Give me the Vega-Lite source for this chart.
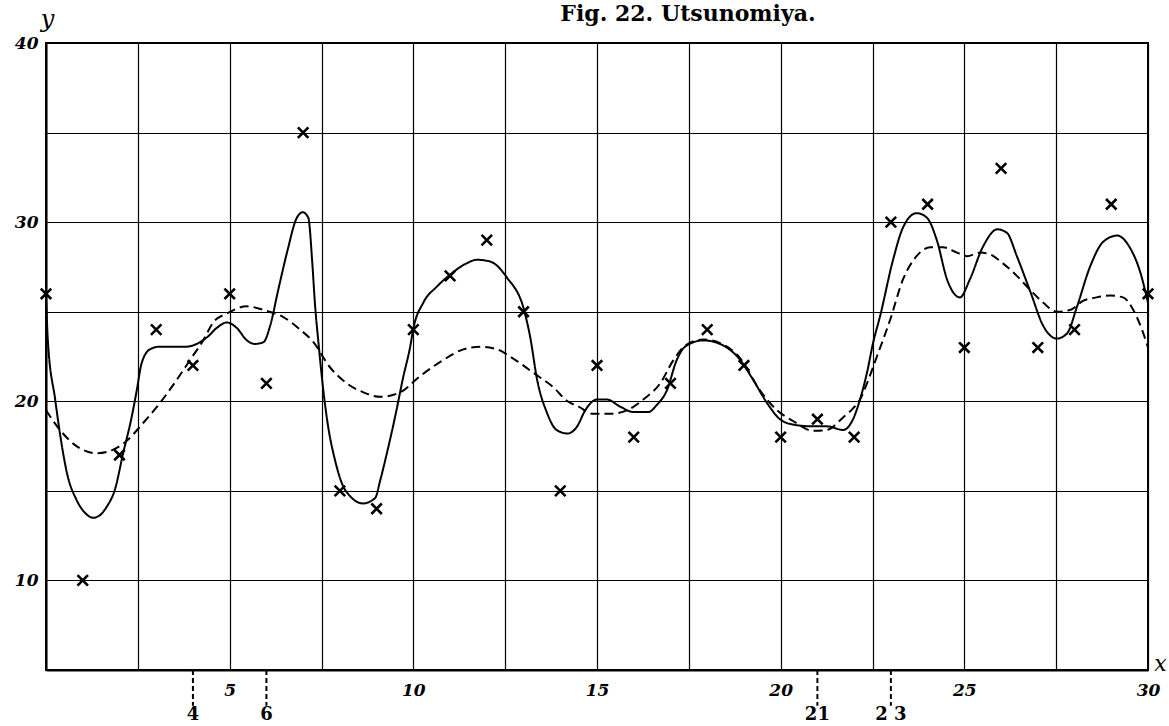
{
  "$schema": "https://vega.github.io/schema/vega-lite/v6.json",
  "width": 1102,
  "height": 627,
  "autosize": {"type": "none"},
  "padding": {"left": 46, "top": 43, "right": 21, "bottom": 56},
  "background": "white",
  "title": {
    "text": "Fig. 22.  Utsunomiya.",
    "font": "DejaVu Serif",
    "fontWeight": "bold",
    "fontSize": 22,
    "color": "black",
    "anchor": "middle",
    "dx": 91,
    "offset": -19
  },
  "config": {
    "view": {"stroke": "black", "strokeWidth": 2},
    "axis": {
      "grid": true,
      "gridColor": "black",
      "gridWidth": 1.2,
      "gridOpacity": 1,
      "ticks": false,
      "domainColor": "black",
      "domainWidth": 2,
      "labelFont": "DejaVu Serif",
      "labelFontStyle": "italic",
      "labelFontWeight": "bold",
      "labelFontSize": 17,
      "labelColor": "black",
      "titleFont": "DejaVu Serif",
      "titleFontStyle": "italic",
      "titleFontWeight": "normal",
      "titleFontSize": 24,
      "titleColor": "black"
    }
  },
  "datasets": {
    "obs": [
      {"x": 0, "y": 26}, {"x": 1, "y": 10}, {"x": 2, "y": 17}, {"x": 3, "y": 24},
      {"x": 4, "y": 22}, {"x": 5, "y": 26}, {"x": 6, "y": 21}, {"x": 7, "y": 35},
      {"x": 8, "y": 15}, {"x": 9, "y": 14}, {"x": 10, "y": 24}, {"x": 11, "y": 27},
      {"x": 12, "y": 29}, {"x": 13, "y": 25}, {"x": 14, "y": 15}, {"x": 15, "y": 22},
      {"x": 16, "y": 18}, {"x": 17, "y": 21}, {"x": 18, "y": 24}, {"x": 19, "y": 22},
      {"x": 20, "y": 18}, {"x": 21, "y": 19}, {"x": 22, "y": 18}, {"x": 23, "y": 30},
      {"x": 24, "y": 31}, {"x": 25, "y": 23}, {"x": 26, "y": 33}, {"x": 27, "y": 23},
      {"x": 28, "y": 24}, {"x": 29, "y": 31}, {"x": 30, "y": 26}
    ],
    "curves": [
      {"curve": "solid", "x": 0, "y": 26},
      {"curve": "solid", "x": 0.05, "y": 23.4},
      {"curve": "solid", "x": 0.25, "y": 20.1},
      {"curve": "solid", "x": 0.38, "y": 18.2},
      {"curve": "solid", "x": 0.57, "y": 16.0},
      {"curve": "solid", "x": 0.83, "y": 14.5},
      {"curve": "solid", "x": 1.05, "y": 13.8},
      {"curve": "solid", "x": 1.29, "y": 13.5},
      {"curve": "solid", "x": 1.5, "y": 13.7},
      {"curve": "solid", "x": 1.65, "y": 14.1},
      {"curve": "solid", "x": 1.88, "y": 15.1},
      {"curve": "solid", "x": 2.1, "y": 17.1},
      {"curve": "solid", "x": 2.33, "y": 19.1},
      {"curve": "solid", "x": 2.47, "y": 20.6},
      {"curve": "solid", "x": 2.6, "y": 22.1},
      {"curve": "solid", "x": 2.83, "y": 22.9},
      {"curve": "solid", "x": 3.1, "y": 23.05},
      {"curve": "solid", "x": 3.5, "y": 23.05},
      {"curve": "solid", "x": 3.83, "y": 23.05},
      {"curve": "solid", "x": 4.19, "y": 23.3},
      {"curve": "solid", "x": 4.4, "y": 23.6},
      {"curve": "solid", "x": 4.65, "y": 24.1},
      {"curve": "solid", "x": 4.92, "y": 24.4},
      {"curve": "solid", "x": 5.19, "y": 24.1},
      {"curve": "solid", "x": 5.47, "y": 23.4},
      {"curve": "solid", "x": 5.69, "y": 23.2},
      {"curve": "solid", "x": 5.92, "y": 23.3},
      {"curve": "solid", "x": 6.1, "y": 24.2},
      {"curve": "solid", "x": 6.32, "y": 26.2},
      {"curve": "solid", "x": 6.56, "y": 28.3},
      {"curve": "solid", "x": 6.83, "y": 30.25},
      {"curve": "solid", "x": 6.99, "y": 30.55},
      {"curve": "solid", "x": 7.14, "y": 30.25},
      {"curve": "solid", "x": 7.25, "y": 27.7},
      {"curve": "solid", "x": 7.32, "y": 25.5},
      {"curve": "solid", "x": 7.43, "y": 23.0},
      {"curve": "solid", "x": 7.55, "y": 20.6},
      {"curve": "solid", "x": 7.68, "y": 18.6},
      {"curve": "solid", "x": 7.87, "y": 16.7},
      {"curve": "solid", "x": 8.06, "y": 15.4},
      {"curve": "solid", "x": 8.28, "y": 14.7},
      {"curve": "solid", "x": 8.63, "y": 14.3},
      {"curve": "solid", "x": 8.96, "y": 14.6},
      {"curve": "solid", "x": 9.1, "y": 15.6},
      {"curve": "solid", "x": 9.28, "y": 17.1},
      {"curve": "solid", "x": 9.5, "y": 19.1},
      {"curve": "solid", "x": 9.73, "y": 21.4},
      {"curve": "solid", "x": 9.91, "y": 23.0},
      {"curve": "solid", "x": 10.0, "y": 24.05},
      {"curve": "solid", "x": 10.27, "y": 25.5},
      {"curve": "solid", "x": 10.64, "y": 26.4},
      {"curve": "solid", "x": 11.0, "y": 27.07},
      {"curve": "solid", "x": 11.45, "y": 27.7},
      {"curve": "solid", "x": 11.73, "y": 27.9},
      {"curve": "solid", "x": 12.09, "y": 27.8},
      {"curve": "solid", "x": 12.55, "y": 26.9},
      {"curve": "solid", "x": 13.02, "y": 25.05},
      {"curve": "solid", "x": 13.18, "y": 23.6},
      {"curve": "solid", "x": 13.37, "y": 21.2},
      {"curve": "solid", "x": 13.63, "y": 19.4},
      {"curve": "solid", "x": 13.9, "y": 18.4},
      {"curve": "solid", "x": 14.2, "y": 18.2},
      {"curve": "solid", "x": 14.46, "y": 18.6},
      {"curve": "solid", "x": 14.68, "y": 19.5},
      {"curve": "solid", "x": 15.0, "y": 20.1},
      {"curve": "solid", "x": 15.27, "y": 20.1},
      {"curve": "solid", "x": 15.63, "y": 19.7},
      {"curve": "solid", "x": 16.0, "y": 19.4},
      {"curve": "solid", "x": 16.4, "y": 19.4},
      {"curve": "solid", "x": 16.63, "y": 19.8},
      {"curve": "solid", "x": 16.9, "y": 20.6},
      {"curve": "solid", "x": 17.17, "y": 22.3},
      {"curve": "solid", "x": 17.4, "y": 23.05},
      {"curve": "solid", "x": 17.89, "y": 23.4},
      {"curve": "solid", "x": 18.35, "y": 23.2},
      {"curve": "solid", "x": 18.9, "y": 22.3},
      {"curve": "solid", "x": 19.25, "y": 21.2},
      {"curve": "solid", "x": 19.63, "y": 19.9},
      {"curve": "solid", "x": 19.98, "y": 19.0},
      {"curve": "solid", "x": 20.34, "y": 18.7},
      {"curve": "solid", "x": 20.88, "y": 18.6},
      {"curve": "solid", "x": 21.26, "y": 18.6},
      {"curve": "solid", "x": 21.7, "y": 18.4},
      {"curve": "solid", "x": 21.97, "y": 19.0},
      {"curve": "solid", "x": 22.16, "y": 20.1},
      {"curve": "solid", "x": 22.35, "y": 21.6},
      {"curve": "solid", "x": 22.52, "y": 23.3},
      {"curve": "solid", "x": 22.7, "y": 24.7},
      {"curve": "solid", "x": 23.06, "y": 27.9},
      {"curve": "solid", "x": 23.33, "y": 29.7},
      {"curve": "solid", "x": 23.7, "y": 30.5},
      {"curve": "solid", "x": 23.98, "y": 30.25},
      {"curve": "solid", "x": 24.25, "y": 29.0},
      {"curve": "solid", "x": 24.53, "y": 26.8},
      {"curve": "solid", "x": 24.88, "y": 25.8},
      {"curve": "solid", "x": 25.15, "y": 26.8},
      {"curve": "solid", "x": 25.5, "y": 28.6},
      {"curve": "solid", "x": 25.9, "y": 29.6},
      {"curve": "solid", "x": 26.16, "y": 29.4},
      {"curve": "solid", "x": 26.43, "y": 28.1},
      {"curve": "solid", "x": 26.8, "y": 26.1},
      {"curve": "solid", "x": 27.15, "y": 24.2},
      {"curve": "solid", "x": 27.52, "y": 23.5},
      {"curve": "solid", "x": 27.8, "y": 23.8},
      {"curve": "solid", "x": 28.07, "y": 25.3},
      {"curve": "solid", "x": 28.42, "y": 27.5},
      {"curve": "solid", "x": 28.78, "y": 28.9},
      {"curve": "solid", "x": 29.16, "y": 29.25},
      {"curve": "solid", "x": 29.5, "y": 28.6},
      {"curve": "solid", "x": 29.79, "y": 27.2},
      {"curve": "solid", "x": 30.0, "y": 25.5},
      {"curve": "dashed", "x": 0.0, "y": 19.5},
      {"curve": "dashed", "x": 0.38, "y": 18.4},
      {"curve": "dashed", "x": 0.83, "y": 17.5},
      {"curve": "dashed", "x": 1.38, "y": 17.1},
      {"curve": "dashed", "x": 1.83, "y": 17.3},
      {"curve": "dashed", "x": 2.2, "y": 17.8},
      {"curve": "dashed", "x": 2.65, "y": 18.8},
      {"curve": "dashed", "x": 3.1, "y": 19.9},
      {"curve": "dashed", "x": 3.56, "y": 21.2},
      {"curve": "dashed", "x": 3.92, "y": 22.3},
      {"curve": "dashed", "x": 4.28, "y": 23.4},
      {"curve": "dashed", "x": 4.55, "y": 24.4},
      {"curve": "dashed", "x": 4.92, "y": 24.9},
      {"curve": "dashed", "x": 5.47, "y": 25.3},
      {"curve": "dashed", "x": 5.92, "y": 25.1},
      {"curve": "dashed", "x": 6.46, "y": 24.7},
      {"curve": "dashed", "x": 6.92, "y": 24.0},
      {"curve": "dashed", "x": 7.28, "y": 23.3},
      {"curve": "dashed", "x": 7.73, "y": 21.9},
      {"curve": "dashed", "x": 8.19, "y": 21.0},
      {"curve": "dashed", "x": 8.64, "y": 20.5},
      {"curve": "dashed", "x": 9.1, "y": 20.25},
      {"curve": "dashed", "x": 9.64, "y": 20.5},
      {"curve": "dashed", "x": 10.18, "y": 21.4},
      {"curve": "dashed", "x": 10.81, "y": 22.3},
      {"curve": "dashed", "x": 11.36, "y": 22.9},
      {"curve": "dashed", "x": 11.82, "y": 23.05},
      {"curve": "dashed", "x": 12.28, "y": 22.9},
      {"curve": "dashed", "x": 12.71, "y": 22.4},
      {"curve": "dashed", "x": 13.26, "y": 21.6},
      {"curve": "dashed", "x": 13.8, "y": 20.8},
      {"curve": "dashed", "x": 14.2, "y": 20.0},
      {"curve": "dashed", "x": 14.5, "y": 19.7},
      {"curve": "dashed", "x": 14.9, "y": 19.3},
      {"curve": "dashed", "x": 15.36, "y": 19.3},
      {"curve": "dashed", "x": 15.82, "y": 19.5},
      {"curve": "dashed", "x": 16.26, "y": 20.1},
      {"curve": "dashed", "x": 16.72, "y": 21.0},
      {"curve": "dashed", "x": 17.08, "y": 22.3},
      {"curve": "dashed", "x": 17.4, "y": 23.1},
      {"curve": "dashed", "x": 17.9, "y": 23.45},
      {"curve": "dashed", "x": 18.35, "y": 23.25},
      {"curve": "dashed", "x": 18.9, "y": 22.4},
      {"curve": "dashed", "x": 19.44, "y": 20.6},
      {"curve": "dashed", "x": 19.9, "y": 19.5},
      {"curve": "dashed", "x": 20.34, "y": 18.9},
      {"curve": "dashed", "x": 20.88, "y": 18.35},
      {"curve": "dashed", "x": 21.26, "y": 18.4},
      {"curve": "dashed", "x": 21.7, "y": 19.1},
      {"curve": "dashed", "x": 21.97, "y": 19.6},
      {"curve": "dashed", "x": 22.16, "y": 20.1},
      {"curve": "dashed", "x": 22.35, "y": 21.0},
      {"curve": "dashed", "x": 22.62, "y": 22.5},
      {"curve": "dashed", "x": 22.98, "y": 24.55},
      {"curve": "dashed", "x": 23.33, "y": 26.8},
      {"curve": "dashed", "x": 23.7, "y": 28.1},
      {"curve": "dashed", "x": 24.07, "y": 28.6},
      {"curve": "dashed", "x": 24.42, "y": 28.6},
      {"curve": "dashed", "x": 24.8, "y": 28.3},
      {"curve": "dashed", "x": 25.07, "y": 28.1},
      {"curve": "dashed", "x": 25.43, "y": 28.3},
      {"curve": "dashed", "x": 25.7, "y": 28.2},
      {"curve": "dashed", "x": 26.05, "y": 27.7},
      {"curve": "dashed", "x": 26.43, "y": 27.0},
      {"curve": "dashed", "x": 26.8, "y": 26.2},
      {"curve": "dashed", "x": 27.15, "y": 25.5},
      {"curve": "dashed", "x": 27.52, "y": 25.0},
      {"curve": "dashed", "x": 27.88, "y": 25.1},
      {"curve": "dashed", "x": 28.23, "y": 25.6},
      {"curve": "dashed", "x": 28.6, "y": 25.8},
      {"curve": "dashed", "x": 28.97, "y": 25.9},
      {"curve": "dashed", "x": 29.32, "y": 25.8},
      {"curve": "dashed", "x": 29.6, "y": 25.1},
      {"curve": "dashed", "x": 29.87, "y": 23.8},
      {"curve": "dashed", "x": 30.0, "y": 23.0}
    ],
    "marks": [
      {"x": 4, "label": "4"},
      {"x": 6, "label": "6"},
      {"x": 21, "label": "21"},
      {"x": 23, "label": "2 3"}
    ]
  },
  "layer": [
    {
      "data": {"name": "curves"},
      "mark": {"type": "line", "interpolate": "monotone", "color": "black", "strokeWidth": 2},
      "encoding": {
        "x": {
          "field": "x", "type": "quantitative",
          "scale": {"domain": [0, 30], "nice": false, "zero": false},
          "axis": {
            "values": [0, 2.5, 5, 7.5, 10, 12.5, 15, 17.5, 20, 22.5, 25, 27.5, 30],
            "labelExpr": "datum.value % 5 === 0 && datum.value > 0 ? datum.value : ''",
            "labelPadding": 12,
            "labelFlush": false,
            "title": "x",
            "titleX": 1114,
            "titleY": -7,
            "titleAlign": "center",
            "titleBaseline": "middle",
            "titleFontSize": 22
          }
        },
        "y": {
          "field": "y", "type": "quantitative",
          "scale": {"domain": [5, 40], "nice": false, "zero": false},
          "axis": {
            "values": [5, 10, 15, 20, 25, 30, 35, 40],
            "labelExpr": "datum.value % 10 === 0 ? datum.value : ''",
            "labelPadding": 8,
            "labelFlush": false,
            "title": "y",
            "titleAngle": 0,
            "titleX": 1,
            "titleY": -24,
            "titleAlign": "center",
            "titleBaseline": "middle"
          }
        },
        "detail": {"field": "curve"},
        "strokeDash": {
          "field": "curve", "type": "nominal",
          "scale": {"domain": ["solid", "dashed"], "range": [[1, 0], [9, 5]]},
          "legend": null
        }
      }
    },
    {
      "data": {"name": "obs"},
      "mark": {
        "type": "point",
        "shape": "M-1,-1L1,1M-1,1L1,-1",
        "size": 110,
        "filled": false,
        "color": "black",
        "strokeWidth": 2.6,
        "opacity": 1
      },
      "encoding": {
        "x": {"field": "x", "type": "quantitative"},
        "y": {"field": "y", "type": "quantitative"}
      }
    },
    {
      "data": {"name": "marks"},
      "mark": {"type": "rule", "color": "black", "strokeWidth": 2, "strokeDash": [5, 3]},
      "encoding": {
        "x": {"field": "x", "type": "quantitative"},
        "y": {"datum": 5},
        "y2": {"datum": 3.0}
      }
    },
    {
      "data": {"name": "marks"},
      "mark": {
        "type": "text",
        "font": "DejaVu Serif",
        "fontWeight": "bold",
        "fontSize": 18,
        "color": "black",
        "baseline": "middle",
        "align": "center"
      },
      "encoding": {
        "x": {"field": "x", "type": "quantitative"},
        "y": {"datum": 2.5},
        "text": {"field": "label"}
      }
    }
  ]
}
